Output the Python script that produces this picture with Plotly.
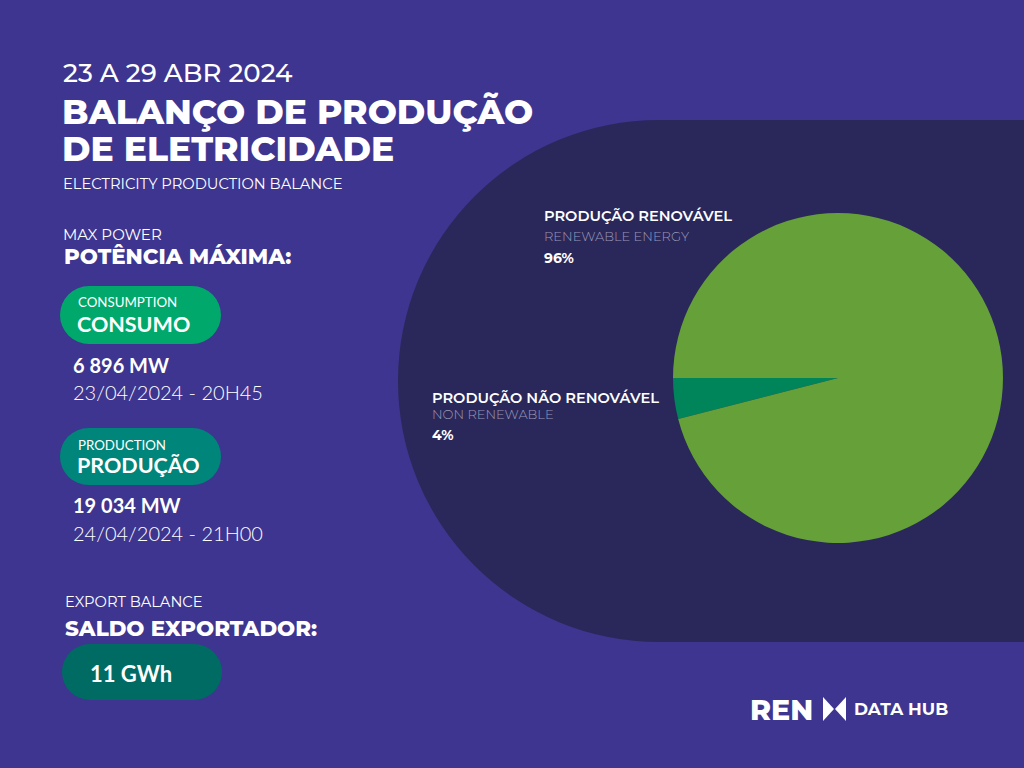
import plotly.graph_objects as go

W, H = 1024, 768

# pie data
pie_labels = ["PRODUÇÃO NÃO RENOVÁVEL", "PRODUÇÃO RENOVÁVEL"]
pie_labels_en = ["NON RENEWABLE", "RENEWABLE ENERGY"]
pie_values = [4, 96]
pie_colors = ["#00845A", "#65A038"]

# header texts
period = "23 A 29 ABR 2024"
title_lines = ["BALANÇO DE PRODUÇÃO", "DE ELETRICIDADE"]
subtitle = "ELECTRICITY PRODUCTION BALANCE"

# max power blocks
max_power_en = "MAX POWER"
max_power_pt = "POTÊNCIA MÁXIMA:"
block_en = ["CONSUMPTION", "PRODUCTION"]
block_pt = ["CONSUMO", "PRODUÇÃO"]
block_values = ["6 896 MW", "19 034 MW"]
block_dates = ["23/04/2024 - 20H45", "24/04/2024 - 21H00"]

export_en = "EXPORT BALANCE"
export_pt = "SALDO EXPORTADOR:"
export_value = "11 GWh"

BG = "#3D358F"
PANEL = "#2A285A"
WHITE = "#FFFFFF"
GREY = "#9A99B8"

HEAD = "Montserrat, Inter, sans-serif"
BODY = "Lato, sans-serif"


def px(x):
    return x / W


def py(y):
    return 1 - y / H


shapes = []
annotations = []


def text(x, y, s, size, weight=400, color=WHITE, family=HEAD, anchor="left"):
    annotations.append(dict(
        x=px(x), y=py(y), xref="paper", yref="paper", text=s, showarrow=False,
        xanchor=anchor, yanchor="middle",
        font=dict(size=size, color=color, family=family, weight=weight)
    ))


def pill(x0, y0, x1, y1, color):
    r = (y1 - y0) / 2
    common = dict(xref="paper", yref="paper", fillcolor=color, line=dict(width=0), layer="below")
    shapes.append(dict(type="circle", x0=px(x0), x1=px(x0 + 2 * r), y0=py(y1), y1=py(y0), **common))
    shapes.append(dict(type="circle", x0=px(x1 - 2 * r), x1=px(x1), y0=py(y1), y1=py(y0), **common))
    shapes.append(dict(type="rect", x0=px(x0 + r), x1=px(x1 - r), y0=py(y1), y1=py(y0), **common))


# dark panel behind the pie: half circle on the left plus a rectangle
panel = dict(xref="paper", yref="paper", fillcolor=PANEL, line=dict(width=0), layer="below")
shapes.append(dict(type="circle", x0=px(398), x1=px(920), y0=py(642), y1=py(120), **panel))
shapes.append(dict(type="rect", x0=px(659), x1=px(1024), y0=py(642), y1=py(120), **panel))

# header
text(61, 73, period, 26, 500)
text(60, 112, title_lines[0], 34.5, 800)
text(60, 149, title_lines[1], 34.5, 800)
text(61, 184, subtitle, 14.7, 400)

# max power
text(61, 234, max_power_en, 15, 400)
text(62, 256, max_power_pt, 21.4, 800)

pill(60, 286, 221, 344, "#00A86B")
text(76, 302, block_en[0], 13.3, 400, family=BODY)
text(75, 324, block_pt[0], 21.5, 700, family=BODY)
text(71, 365, block_values[0], 20, 700, family=BODY)
text(71, 392, block_dates[0], 20, 300, family=BODY)

pill(60, 428, 221, 485, "#00857A")
text(76, 445, block_en[1], 13.3, 400, family=BODY)
text(75, 465, block_pt[1], 21.5, 700, family=BODY)
text(71, 505, block_values[1], 20, 700, family=BODY)
text(71, 533, block_dates[1], 20, 300, family=BODY)

# export balance
text(63, 602, export_en, 14.7, 400)
text(63, 628, export_pt, 21.4, 800)
pill(62, 644, 222, 700, "#006B63")
text(88, 673, export_value, 22, 700, family=BODY)

# pie labels
text(542, 216, pie_labels[1], 14.6, 600)
text(542, 236, pie_labels_en[1], 13, 300, color=GREY)
text(542, 258, f"{pie_values[1]}%", 14, 700)
text(430, 398, pie_labels[0], 14.6, 600)
text(430, 414, pie_labels_en[0], 13, 300, color=GREY)
text(430, 435, f"{pie_values[0]}%", 14, 700)

# logo
text(748, 709, "REN", 28.5, 800)
shapes.append(dict(type="path", xref="paper", yref="paper", fillcolor=WHITE, line=dict(width=0),
                   path=f"M {px(823)} {py(697)} L {px(834)} {py(709)} L {px(823)} {py(721)} Z"))
shapes.append(dict(type="path", xref="paper", yref="paper", fillcolor=WHITE, line=dict(width=0),
                   path=f"M {px(846)} {py(697)} L {px(835)} {py(709)} L {px(846)} {py(721)} Z"))
text(852, 709, "DATA HUB", 17, 700)

# non-renewable slice sits just below the 9 o'clock line
start = 270 - 360 * pie_values[0] / sum(pie_values)

fig = go.Figure(go.Pie(
    labels=pie_labels, values=pie_values, sort=False, direction="clockwise",
    rotation=start, marker=dict(colors=pie_colors, line=dict(width=0)),
    textinfo="none", hoverinfo="label+percent",
    domain=dict(x=[px(673), px(1003)], y=[py(543), py(213)])
))

fig.update_layout(
    width=W, height=H, margin=dict(l=0, r=0, t=0, b=0),
    paper_bgcolor=BG, plot_bgcolor=BG, showlegend=False,
    shapes=shapes, annotations=annotations
)

fig.write_html("out.html", config={"displayModeBar": False},
               post_script="document.body.style.margin='0';document.body.style.background='" + BG + "';")
